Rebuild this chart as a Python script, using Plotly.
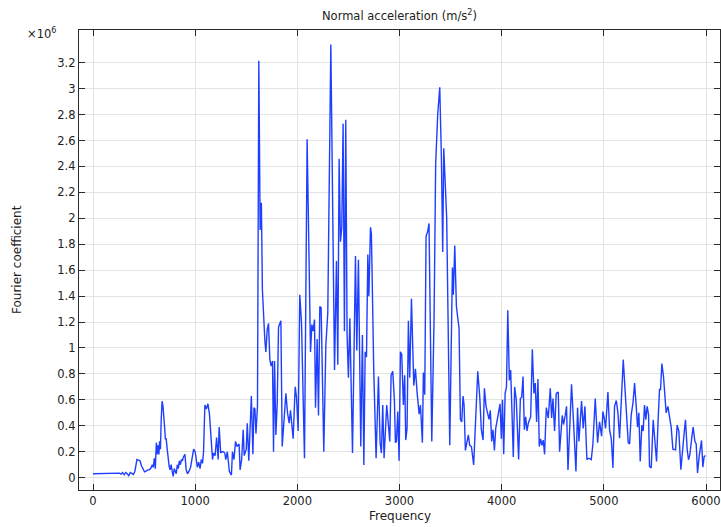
import plotly.graph_objects as go
import numpy as np

# Frequency (Hz) and Fourier coefficient values (in units of 1e6)
frequency = [
    0, 20, 40, 60, 80, 100, 120, 140, 160, 180, 200, 220, 240, 260, 275, 290, 305, 320, 335, 350,
    365, 380, 395, 410, 420, 430, 445, 460, 475, 490, 505, 520, 535, 550, 565, 580, 590, 600, 610, 620,
    628, 636, 645, 652, 660, 668, 676, 684, 692, 700, 708, 716, 725, 735, 745, 755, 765, 775, 785, 795,
    805, 815, 825, 835, 845, 855, 865, 875, 885, 900, 912, 925, 940, 955, 970, 985, 1000, 1012, 1022, 1035,
    1048, 1060, 1072, 1082, 1095, 1110, 1125, 1140, 1155, 1170, 1180, 1195, 1210, 1225, 1235, 1250, 1262, 1275, 1290, 1300,
    1315, 1335, 1355, 1365, 1380, 1395, 1410, 1430, 1440, 1455, 1470, 1480, 1500, 1510, 1525, 1540, 1550, 1565, 1575, 1585,
    1595, 1610, 1623, 1636, 1648, 1658, 1672, 1682, 1692, 1705, 1718, 1731, 1744, 1757, 1767, 1777, 1790, 1803, 1816, 1839,
    1852, 1870, 1888, 1904, 1920, 1933, 1959, 1979, 1992, 2008, 2024, 2041, 2070, 2096, 2129, 2142, 2155, 2168, 2178, 2194,
    2207, 2220, 2233, 2259, 2279, 2298, 2328, 2364, 2383, 2396, 2409, 2422, 2435, 2448, 2461, 2474, 2487, 2500, 2514, 2540,
    2569, 2582, 2598, 2621, 2637, 2651, 2664, 2677, 2690, 2700, 2716, 2725, 2748, 2771, 2794, 2810, 2823, 2836, 2849, 2875,
    2892, 2905, 2918, 2934, 2950, 2960, 2970, 2983, 2996, 3009, 3022, 3038, 3051, 3061, 3074, 3087, 3100, 3117, 3140, 3156,
    3172, 3192, 3205, 3224, 3234, 3247, 3260, 3276, 3289, 3316, 3338, 3354, 3374, 3394, 3410, 3423, 3433, 3449, 3462, 3492,
    3518, 3527, 3541, 3557, 3583, 3596, 3609, 3622, 3632, 3645, 3661, 3674, 3687, 3704, 3726, 3746, 3766, 3785, 3801, 3818,
    3831, 3847, 3863, 3876, 3889, 3902, 3915, 3929, 3942, 3955, 3968, 3984, 3997, 4008, 4020, 4034, 4047, 4060, 4075, 4088,
    4101, 4114, 4127, 4143, 4166, 4183, 4196, 4209, 4222, 4235, 4248, 4261, 4284, 4300, 4316, 4329, 4342, 4355, 4368, 4381,
    4394, 4407, 4420, 4437, 4456, 4476, 4489, 4502, 4518, 4534, 4554, 4567, 4593, 4606, 4622, 4635, 4649, 4665, 4684, 4704,
    4727, 4743, 4756, 4782, 4798, 4815, 4834, 4854, 4877, 4893, 4916, 4939, 4958, 4978, 4991, 5004, 5017, 5040, 5056, 5073,
    5089, 5105, 5122, 5138, 5154, 5170, 5190, 5206, 5226, 5239, 5252, 5268, 5285, 5301, 5317, 5330, 5343, 5356, 5372, 5385,
    5398, 5411, 5424, 5438, 5447, 5464, 5483, 5500, 5516, 5532, 5545, 5555, 5568, 5584, 5597, 5610, 5627, 5643, 5659, 5676,
    5702, 5718, 5734, 5754, 5770, 5783, 5799, 5816, 5829, 5842, 5858, 5874, 5891, 5904, 5917, 5933, 5956, 5969, 5982, 5995,
]

coef_e6 = [
    0.03, 0.03, 0.03, 0.03, 0.03, 0.03, 0.03, 0.03, 0.03, 0.03, 0.03, 0.032, 0.03, 0.035, 0.028, 0.04, 0.022, 0.04, 0.03, 0.015,
    0.04, 0.035, 0.025, 0.05, 0.12, 0.14, 0.135, 0.13, 0.09, 0.06, 0.045, 0.05, 0.06, 0.06, 0.07, 0.1, 0.08, 0.15, 0.07, 0.27,
    0.18, 0.25, 0.18, 0.28, 0.22, 0.45, 0.59, 0.56, 0.5, 0.4, 0.3, 0.3, 0.23, 0.15, 0.09, 0.06, 0.1, 0.05, 0.01, 0.07,
    0.05, 0.03, 0.1, 0.07, 0.13, 0.1, 0.14, 0.13, 0.16, 0.18, 0.06, 0.03, 0.05, 0.08, 0.15, 0.22, 0.2, 0.15, 0.08, 0.12,
    0.07, 0.14, 0.11, 0.2, 0.56, 0.53, 0.57, 0.49, 0.3, 0.14, 0.19, 0.17, 0.31, 0.14, 0.39, 0.19, 0.2, 0.2, 0.19, 0.14,
    0.2, 0.048, 0.02, 0.2, 0.14, 0.28, 0.24, 0.26, 0.06, 0.14, 0.37, 0.17, 0.22, 0.42, 0.13, 0.37, 0.63, 0.18, 0.54, 0.53,
    0.34, 0.55, 3.215, 1.91, 2.12, 1.45, 1.14, 1.06, 0.97, 1.14, 1.19, 0.91, 0.86, 0.9, 0.2, 0.9, 0.33, 0.57, 1.16, 1.21,
    0.24, 0.45, 0.65, 0.5, 0.42, 0.52, 0.3, 0.7, 0.62, 0.36, 1.41, 1.19, 0.15, 2.61, 0.97, 1.18, 1.13, 1.22, 0.54, 1.07,
    0.48, 1.32, 1.31, 0.2, 1.02, 1.27, 3.34, 0.83, 1.67, 0.87, 2.46, 1.82, 1.93, 2.73, 1.13, 2.76, 1.1, 0.77, 1.23, 0.19,
    1.71, 0.98, 1.68, 0.24, 1.1, 0.098, 0.97, 0.93, 1.72, 1.4, 1.93, 1.88, 0.83, 0.15, 0.78, 0.27, 0.19, 0.56, 0.15, 0.56,
    0.42, 0.28, 0.79, 0.82, 0.6, 0.27, 0.28, 0.51, 0.13, 0.97, 0.95, 0.56, 0.79, 0.29, 0.38, 1.21, 0.77, 1.38, 0.71, 0.84,
    0.66, 0.49, 0.56, 0.27, 0.81, 0.64, 1.86, 1.9, 1.96, 0.28, 1.21, 2.42, 2.8, 3.01, 2.47, 1.74, 2.54, 2.19, 2.0, 0.25,
    1.62, 1.41, 1.79, 1.32, 1.15, 0.45, 0.43, 0.63, 0.56, 0.21, 0.27, 0.33, 0.25, 0.24, 0.098, 0.46, 0.82, 0.63, 0.37, 0.29,
    0.69, 0.55, 0.5, 0.45, 0.52, 0.28, 0.37, 0.21, 0.38, 0.43, 0.49, 0.57, 0.3, 0.6, 0.18, 0.65, 0.7, 1.29, 0.75, 0.83,
    0.5, 0.16, 0.7, 0.6, 0.14, 0.61, 0.62, 0.78, 0.37, 0.47, 0.36, 0.42, 0.47, 0.99, 0.65, 0.73, 0.43, 0.76, 0.24, 0.3,
    0.25, 0.29, 0.18, 0.54, 0.46, 0.69, 0.46, 0.61, 0.36, 0.65, 0.66, 0.2, 0.48, 0.41, 0.48, 0.55, 0.06, 0.36, 0.72, 0.42,
    0.048, 0.54, 0.28, 0.59, 0.38, 0.55, 0.14, 0.15, 0.14, 0.26, 0.61, 0.27, 0.43, 0.32, 0.51, 0.46, 0.38, 0.66, 0.37, 0.3,
    0.074, 0.55, 0.595, 0.5, 0.305, 0.575, 0.91, 0.7, 0.38, 0.27, 0.26, 0.485, 0.575, 0.73, 0.55, 0.39, 0.5, 0.125, 0.405, 0.36,
    0.56, 0.447, 0.55, 0.485, 0.087, 0.074, 0.447, 0.24, 0.125, 0.46, 0.68, 0.68, 0.88, 0.78, 0.587, 0.5, 0.55, 0.47, 0.39, 0.22,
    0.215, 0.405, 0.36, 0.061, 0.24, 0.318, 0.447, 0.215, 0.138, 0.177, 0.29, 0.39, 0.28, 0.26, 0.036, 0.164, 0.287, 0.082, 0.164, 0.17,
]

x_ticks = [0, 1000, 2000, 3000, 4000, 5000, 6000]
y_tick_e6 = [0, 0.2, 0.4, 0.6, 0.8, 1, 1.2, 1.4, 1.6, 1.8, 2, 2.2, 2.4, 2.6, 2.8, 3, 3.2]
y_tick_labels = ["0", "0.2", "0.4", "0.6", "0.8", "1", "1.2", "1.4", "1.6", "1.8", "2",
                 "2.2", "2.4", "2.6", "2.8", "3", "3.2"]

title_text = "Normal acceleration (m/s<sup>2</sup>)"
x_title = "Frequency"
y_title = "Fourier coefficient"
scale_text = "×10<sup>6</sup>"

coef = np.array(coef_e6) * 1e6
y_tickvals = [v * 1e6 for v in y_tick_e6]

FONT = "DejaVu Sans"
AXIS_COLOR = "#2b2b2b"
GRID_COLOR = "#e3e3e3"

fig = go.Figure()
fig.add_trace(go.Scatter(
    x=frequency, y=coef, mode="lines",
    line=dict(color="#1f3fff", width=1.4),
    showlegend=False, hoverinfo="skip",
))

axis_common = dict(
    showline=True, linecolor=AXIS_COLOR, linewidth=1.3, mirror="allticks",
    ticks="inside", ticklen=6, tickwidth=1.3, tickcolor=AXIS_COLOR,
    showgrid=True, gridcolor=GRID_COLOR, gridwidth=1, zeroline=False,
    tickfont=dict(family=FONT, size=11.5, color="#222222"),
)

fig.update_layout(
    width=721, height=527,
    margin=dict(l=79, r=1, t=30, b=37),
    paper_bgcolor="white", plot_bgcolor="white",
    font=dict(family=FONT, size=11.5, color="#222222"),
    xaxis=dict(range=[-137, 6137], tickvals=x_ticks, **axis_common),
    yaxis=dict(range=[-0.095e6, 3.452e6], tickvals=y_tickvals, ticktext=y_tick_labels,
               **axis_common),
    annotations=[
        dict(text=title_text, x=0.5, y=1 + 15 / 460, xref="paper", yref="paper",
             showarrow=False, xanchor="center", yanchor="middle",
             font=dict(family=FONT, size=11.5, color="#222222")),
        dict(text=x_title, x=0.5, y=-26 / 460, xref="paper", yref="paper",
             showarrow=False, xanchor="center", yanchor="middle",
             font=dict(family=FONT, size=12, color="#222222")),
        dict(text=y_title, x=-62 / 641, y=0.5, xref="paper", yref="paper",
             showarrow=False, xanchor="center", yanchor="middle", textangle=-90,
             font=dict(family=FONT, size=12, color="#222222")),
        dict(text=scale_text, x=-38 / 641, y=1 - 4 / 460, xref="paper", yref="paper",
             showarrow=False, xanchor="center", yanchor="middle",
             font=dict(family=FONT, size=11.5, color="#222222")),
    ],
)

fig.write_html(
    "out.html",
    config={"displayModeBar": False},
    post_script="document.body.style.margin='0';document.body.style.padding='0';",
)
